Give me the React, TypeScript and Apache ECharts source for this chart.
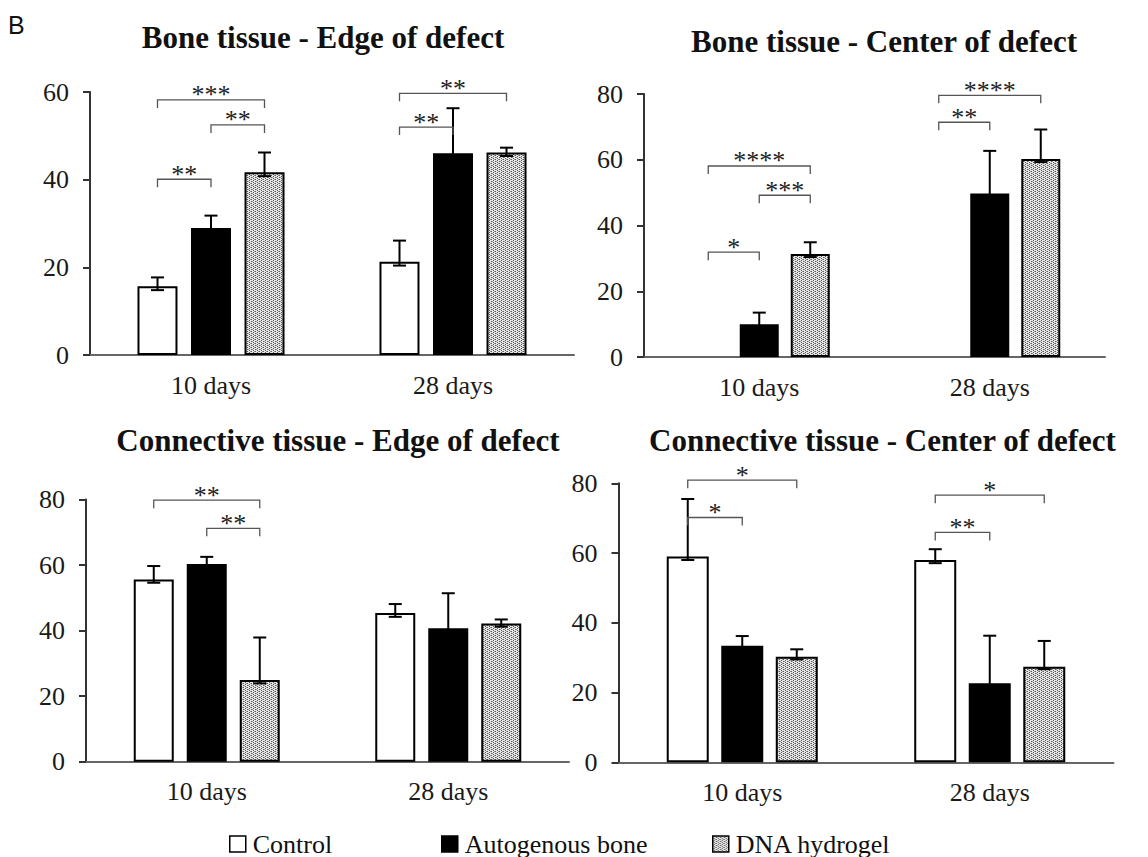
import React, { useEffect, useRef } from 'react';
import * as echarts from 'echarts';

const categories = ['10 days', '28 days'];
const seriesNames = ['Control', 'Autogenous bone', 'DNA hydrogel'];

// Bone tissue - Edge of defect
const boneEdgeControl = [15.7, 21.3];
const boneEdgeAuto = [29.0, 46.0];
const boneEdgeDna = [41.7, 46.2];
const boneEdgeControlErrUp = [2.0, 4.8];
const boneEdgeAutoErrUp = [2.8, 10.3];
const boneEdgeDnaErrUp = [4.5, 1.1];
const boneEdgeControlErrDown = [0.9, 0.9];
const boneEdgeAutoErrDown = [0.9, 0.9];
const boneEdgeDnaErrDown = [0.9, 0.8];
const boneEdgeBrackets = [
  [0, 0, 2, 58.2, '***'],
  [0, 1, 2, 52.5, '**'],
  [0, 0, 1, 40.1, '**'],
  [1, 0, 2, 59.7, '**'],
  [1, 0, 1, 52.0, '**'],
];

// Bone tissue - Center of defect
const boneCenterControl = [null, null];
const boneCenterAuto = [10.0, 49.7];
const boneCenterDna = [31.3, 60.2];
const boneCenterControlErrUp = [0, 0];
const boneCenterAutoErrUp = [3.5, 13.0];
const boneCenterDnaErrUp = [3.6, 9.0];
const boneCenterControlErrDown = [0, 0];
const boneCenterAutoErrDown = [1.0, 1.0];
const boneCenterDnaErrDown = [0.9, 0.9];
const boneCenterBrackets = [
  [0, 0, 2, 58.1, '****'],
  [0, 1, 2, 49.2, '***'],
  [0, 0, 1, 31.9, '*'],
  [1, 0, 2, 79.6, '****'],
  [1, 0, 1, 71.4, '**'],
];

// Connective tissue - Edge of defect
const connEdgeControl = [55.6, 45.4];
const connEdgeAuto = [60.3, 40.7];
const connEdgeDna = [24.9, 42.2];
const connEdgeControlErrUp = [4.1, 2.7];
const connEdgeAutoErrUp = [2.2, 10.7];
const connEdgeDnaErrUp = [13.0, 1.2];
const connEdgeControlErrDown = [1.0, 1.2];
const connEdgeAutoErrDown = [1.0, 1.0];
const connEdgeDnaErrDown = [1.0, 1.0];
const connEdgeBrackets = [
  [0, 0, 2, 79.8, '**'],
  [0, 1, 2, 71.2, '**'],
];

// Connective tissue - Center of defect
const connCenterControl = [59.0, 58.0];
const connCenterAuto = [33.4, 22.7];
const connCenterDna = [30.3, 27.4];
const connCenterControlErrUp = [16.5, 3.1];
const connCenterAutoErrUp = [2.8, 13.6];
const connCenterDnaErrUp = [2.1, 7.4];
const connCenterControlErrDown = [1.0, 0.9];
const connCenterAutoErrDown = [1.0, 1.0];
const connCenterDnaErrDown = [0.8, 0.7];
const connCenterBrackets = [
  [0, 0, 2, 80.9, '*'],
  [0, 0, 1, 70.2, '*'],
  [1, 0, 2, 76.6, '*'],
  [1, 0, 1, 65.9, '**'],
];

const yTicks60 = { max: 60, interval: 20 };
const yTicks80 = { max: 80, interval: 20 };

const SERIF = 'Liberation Serif, Times New Roman, serif';

const panels = [
  {
    title: 'Bone tissue - Edge of defect', titleX: 323, titleY: 37.5,
    grid: { left: 90, top: 92, width: 484, height: 263 },
    yAxis: yTicks60, barWidth: 40, pitch: 53.5,
    values: [boneEdgeControl, boneEdgeAuto, boneEdgeDna],
    errUp: [boneEdgeControlErrUp, boneEdgeAutoErrUp, boneEdgeDnaErrUp],
    errDown: [boneEdgeControlErrDown, boneEdgeAutoErrDown, boneEdgeDnaErrDown],
    brackets: boneEdgeBrackets,
  },
  {
    title: 'Bone tissue - Center of defect', titleX: 884, titleY: 41.5,
    grid: { left: 644, top: 94, width: 461, height: 263 },
    yAxis: yTicks80, barWidth: 39, pitch: 51,
    values: [boneCenterControl, boneCenterAuto, boneCenterDna],
    errUp: [boneCenterControlErrUp, boneCenterAutoErrUp, boneCenterDnaErrUp],
    errDown: [boneCenterControlErrDown, boneCenterAutoErrDown, boneCenterDnaErrDown],
    brackets: boneCenterBrackets,
  },
  {
    title: 'Connective tissue - Edge of defect', titleX: 338, titleY: 440.8,
    grid: { left: 86, top: 499.5, width: 483, height: 262.2 },
    yAxis: yTicks80, barWidth: 40, pitch: 53,
    values: [connEdgeControl, connEdgeAuto, connEdgeDna],
    errUp: [connEdgeControlErrUp, connEdgeAutoErrUp, connEdgeDnaErrUp],
    errDown: [connEdgeControlErrDown, connEdgeAutoErrDown, connEdgeDnaErrDown],
    brackets: connEdgeBrackets,
  },
  {
    title: 'Connective tissue - Center of defect', titleX: 882.5, titleY: 440.8,
    grid: { left: 618.5, top: 483.3, width: 495, height: 279 },
    yAxis: yTicks80, barWidth: 42, pitch: 54.5,
    values: [connCenterControl, connCenterAuto, connCenterDna],
    errUp: [connCenterControlErrUp, connCenterAutoErrUp, connCenterDnaErrUp],
    errDown: [connCenterControlErrDown, connCenterAutoErrDown, connCenterDnaErrDown],
    brackets: connCenterBrackets,
  },
];

function makePattern() {
  const cv = document.createElement('canvas');
  cv.width = 4;
  cv.height = 4;
  const ctx = cv.getContext('2d');
  if (ctx) {
    ctx.fillStyle = '#e6e6e6';
    ctx.fillRect(0, 0, 4, 4);
    ctx.fillStyle = '#5a5a5a';
    [[1, 0], [1, 2], [3, 1], [3, 3]].forEach(([x, y]) => ctx.fillRect(x, y, 1, 1));
    ctx.fillStyle = '#9a9a9a';
    [[0, 1], [2, 3]].forEach(([x, y]) => ctx.fillRect(x, y, 1, 1));
  }
  return { image: cv, repeat: 'repeat', imageWidth: 4, imageHeight: 4 } as any;
}

function buildOption() {
  const pattern = makePattern();
  const fills = ['#ffffff', '#000000', pattern];
  const grids: any[] = [];
  const xAxes: any[] = [];
  const yAxes: any[] = [];
  const series: any[] = [];
  const graphics: any[] = [
    {
      type: 'text', left: 8, top: 12,
      style: { text: 'B', font: '25px Liberation Sans, Arial, sans-serif', fill: '#111' },
    },
  ];

  panels.forEach((p, gi) => {
    grids.push({ ...p.grid, containLabel: false });
    xAxes.push({
      type: 'category', gridIndex: gi, data: categories,
      axisTick: { show: false },
      axisLine: { show: true, lineStyle: { color: '#666', width: 2 } },
      axisLabel: { fontFamily: SERIF, fontSize: 26, color: '#1a1a1a', margin: 17 },
    });
    yAxes.push({
      type: 'value', gridIndex: gi, min: 0, max: p.yAxis.max, interval: p.yAxis.interval,
      splitLine: { show: false },
      axisLine: { show: true, lineStyle: { color: '#333', width: 2 } },
      axisTick: { show: true, inside: false, length: 7, lineStyle: { color: '#333', width: 2 } },
      axisLabel: { fontFamily: SERIF, fontSize: 26, color: '#1a1a1a', margin: 21 },
    });
    const gap = ((p.pitch - p.barWidth) / p.barWidth) * 100;
    p.values.forEach((vals, si) => {
      series.push({
        type: 'bar', name: seriesNames[si], xAxisIndex: gi, yAxisIndex: gi,
        data: vals.map((v) => (v == null ? '-' : v)),
        barWidth: p.barWidth, barGap: gap.toFixed(1) + '%',
        itemStyle: { color: fills[si], borderColor: '#000', borderWidth: 2 },
        emphasis: { disabled: true },
        z: 2,
      });
    });
    const errData: any[] = [];
    p.values.forEach((vals, si) => {
      vals.forEach((v, ci) => {
        if (v != null) errData.push([ci, si, v, p.errUp[si][ci], p.errDown[si][ci]]);
      });
    });
    const pitch = p.pitch;
    series.push({
      type: 'custom', xAxisIndex: gi, yAxisIndex: gi, z: 4,
      encode: { x: 0, y: 2 },
      data: errData,
      renderItem: (params: any, api: any) => {
        const cat = api.value(0);
        const idx = api.value(1);
        const v = api.value(2);
        const up = api.value(3);
        const dn = api.value(4);
        const c = api.coord([cat, v]);
        const x = c[0] + (idx - 1) * pitch;
        const yTop = api.coord([cat, v + up])[1];
        const yBot = api.coord([cat, v - dn])[1];
        const hw = 6.5;
        const st = { stroke: '#000', lineWidth: 2 };
        return {
          type: 'group',
          children: [
            { type: 'line', shape: { x1: x, y1: yTop, x2: x, y2: yBot }, style: st },
            { type: 'line', shape: { x1: x - hw, y1: yTop, x2: x + hw, y2: yTop }, style: st },
            { type: 'line', shape: { x1: x - hw, y1: yBot, x2: x + hw, y2: yBot }, style: st },
          ],
        };
      },
    });
    const br = p.brackets;
    series.push({
      type: 'custom', xAxisIndex: gi, yAxisIndex: gi, z: 4, clip: false,
      encode: { x: 0, y: 3 },
      data: br.map((b) => [b[0], b[1], b[2], b[3]]),
      renderItem: (params: any, api: any) => {
        const cat = api.value(0);
        const a = api.value(1);
        const b = api.value(2);
        const yv = api.value(3);
        const c = api.coord([cat, yv]);
        const x1 = c[0] + (a - 1) * pitch;
        const x2 = c[0] + (b - 1) * pitch;
        const y = c[1];
        const label = br[params.dataIndex][4] as string;
        return {
          type: 'group',
          children: [
            {
              type: 'polyline',
              shape: { points: [[x1, y + 8], [x1, y], [x2, y], [x2, y + 8]] },
              style: { stroke: '#555', lineWidth: 1.3, fill: 'none' },
            },
            {
              type: 'text',
              style: {
                text: label, x: (x1 + x2) / 2, y: y - 5,
                align: 'center', verticalAlign: 'middle',
                font: '26px ' + SERIF, fill: '#222',
              },
            },
          ],
        };
      },
    });
    graphics.push({
      type: 'text', x: p.titleX, y: p.titleY,
      style: {
        text: p.title, align: 'center', verticalAlign: 'middle',
        font: 'bold 31px ' + SERIF, fill: '#111',
      },
    });
  });

  const legendBase = {
    orient: 'horizontal', icon: 'rect', itemWidth: 16, itemHeight: 16, top: 826,
    textStyle: { fontFamily: SERIF, fontSize: 26, color: '#111', padding: [0, 0, 0, 2] },
    selectedMode: false,
    itemStyle: { borderColor: '#000', borderWidth: 1.5 },
  };

  return {
    animation: false,
    backgroundColor: '#ffffff',
    grid: grids,
    xAxis: xAxes,
    yAxis: yAxes,
    series,
    graphic: graphics,
    legend: [
      { ...legendBase, left: 224, data: [seriesNames[0]] },
      { ...legendBase, left: 436, data: [seriesNames[1]] },
      { ...legendBase, left: 707, data: [seriesNames[2]] },
    ],
  };
}

export default function App() {
  const ref = useRef<HTMLDivElement>(null);
  useEffect(() => {
    if (!ref.current) return;
    const chart = echarts.init(ref.current, undefined, { renderer: 'svg' });
    chart.setOption(buildOption() as any);
    return () => chart.dispose();
  }, []);
  return (
    <div
      ref={ref}
      style={{ position: 'absolute', left: 0, top: 0, width: 1148, height: 857, background: '#fff' }}
    />
  );
}
